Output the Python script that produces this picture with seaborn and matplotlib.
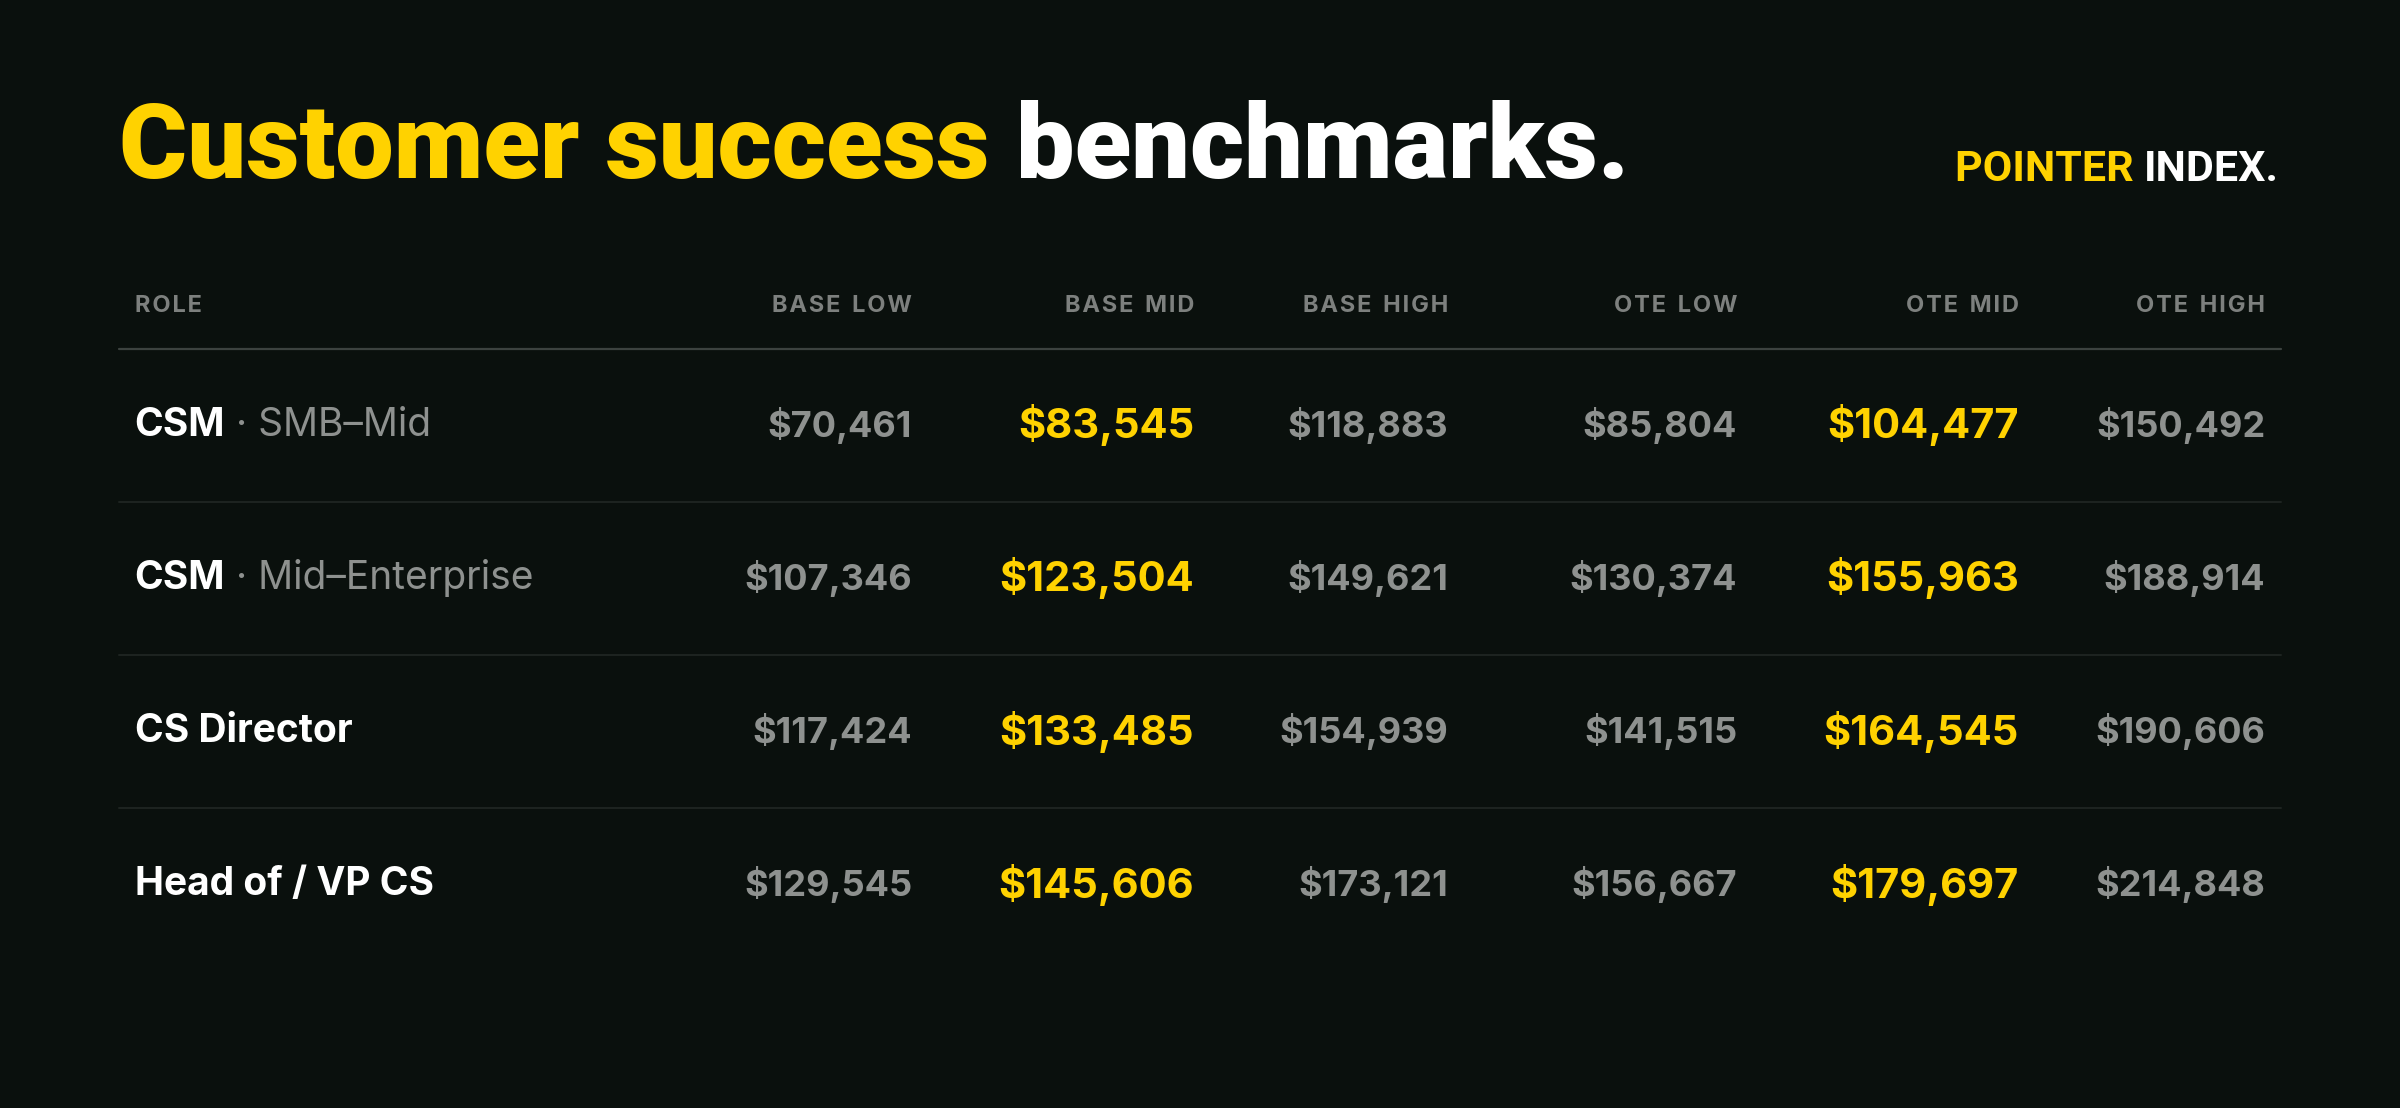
import matplotlib
matplotlib.use('Agg')
import matplotlib.pyplot as plt
import seaborn as sns

sns.set_theme(style='white')
plt.rcParams['font.family'] = ['Inter', 'DejaVu Sans']

BG = '#0a100d'
YELLOW = '#ffd200'
WHITE = '#ffffff'
GREY = '#8e918f'
HEAD_GREY = '#7d807e'

# table data
columns = ['BASE LOW', 'BASE MID', 'BASE HIGH', 'OTE LOW', 'OTE MID', 'OTE HIGH']
role_main = ['CSM', 'CSM', 'CS Director', 'Head of / VP CS']
role_sub = ['SMB–Mid', 'Mid–Enterprise', '', '']
base_low = [70461, 107346, 117424, 129545]
base_mid = [83545, 123504, 133485, 145606]
base_high = [118883, 149621, 154939, 173121]
ote_low = [85804, 130374, 141515, 156667]
ote_mid = [104477, 155963, 164545, 179697]
ote_high = [150492, 188914, 190606, 214848]
values = [base_low, base_mid, base_high, ote_low, ote_mid, ote_high]
highlight = ['BASE MID', 'OTE MID']


def spaced(s):
    # fake letter spacing for the header row
    return '\u200a'.join(s).replace('\u200a \u200a', '\u2002')


fig = plt.figure(figsize=(24, 11.08), dpi=100, facecolor=BG)
ax = fig.add_axes([0, 0, 1, 1])
ax.set_facecolor(BG)
ax.set_xlim(0, 1568)
ax.set_ylim(724, 0)
ax.axis('off')

# title
t1 = ax.text(78, 98, 'Customer success ', color=YELLOW, fontsize=75, fontweight='black',
             family='Roboto', va='center', ha='left')
ax.annotate('benchmarks.', xy=(1, 0), xycoords=t1, va='bottom', ha='left',
            color=WHITE, fontsize=75, fontweight='black', family='Roboto')

t2 = ax.text(1489, 111, 'INDEX.', color=WHITE, fontsize=31, fontweight='bold',
             family='Roboto', va='center', ha='right')
ax.annotate('POINTER ', xy=(0, 0), xycoords=t2, va='bottom', ha='right',
            color=YELLOW, fontsize=31, fontweight='bold', family='Roboto')

col_x = [596, 780, 946, 1135, 1319, 1480]
row_y = [278, 378, 478, 578]

ax.text(88, 200, spaced('ROLE'), color=HEAD_GREY, fontsize=17, fontweight='bold',
        va='center', ha='left')
for cx, name in zip(col_x, columns):
    ax.text(cx, 200, spaced(name), color=HEAD_GREY, fontsize=17, fontweight='bold',
            va='center', ha='right')

ax.plot([78, 1490], [228, 228], color='#3c423f', lw=1.6)
for y in [328, 428, 528]:
    ax.plot([78, 1490], [y, y], color='#1e2421', lw=1.4)

for i, y in enumerate(row_y):
    r = ax.text(88, y, role_main[i], color=WHITE, fontsize=28, fontweight='bold',
                va='center', ha='left')
    if role_sub[i]:
        ax.annotate(' · ' + role_sub[i], xy=(1, 0), xycoords=r, va='bottom', ha='left',
                    color=GREY, fontsize=28)
    for cx, name, vals in zip(col_x, columns, values):
        hi = name in highlight
        ax.text(cx, y, f'${vals[i]:,}', color=YELLOW if hi else GREY,
                fontsize=30 if hi else 26, fontweight='bold',
                va='center', ha='right')

fig.savefig('out.png', dpi=100, facecolor=BG)
